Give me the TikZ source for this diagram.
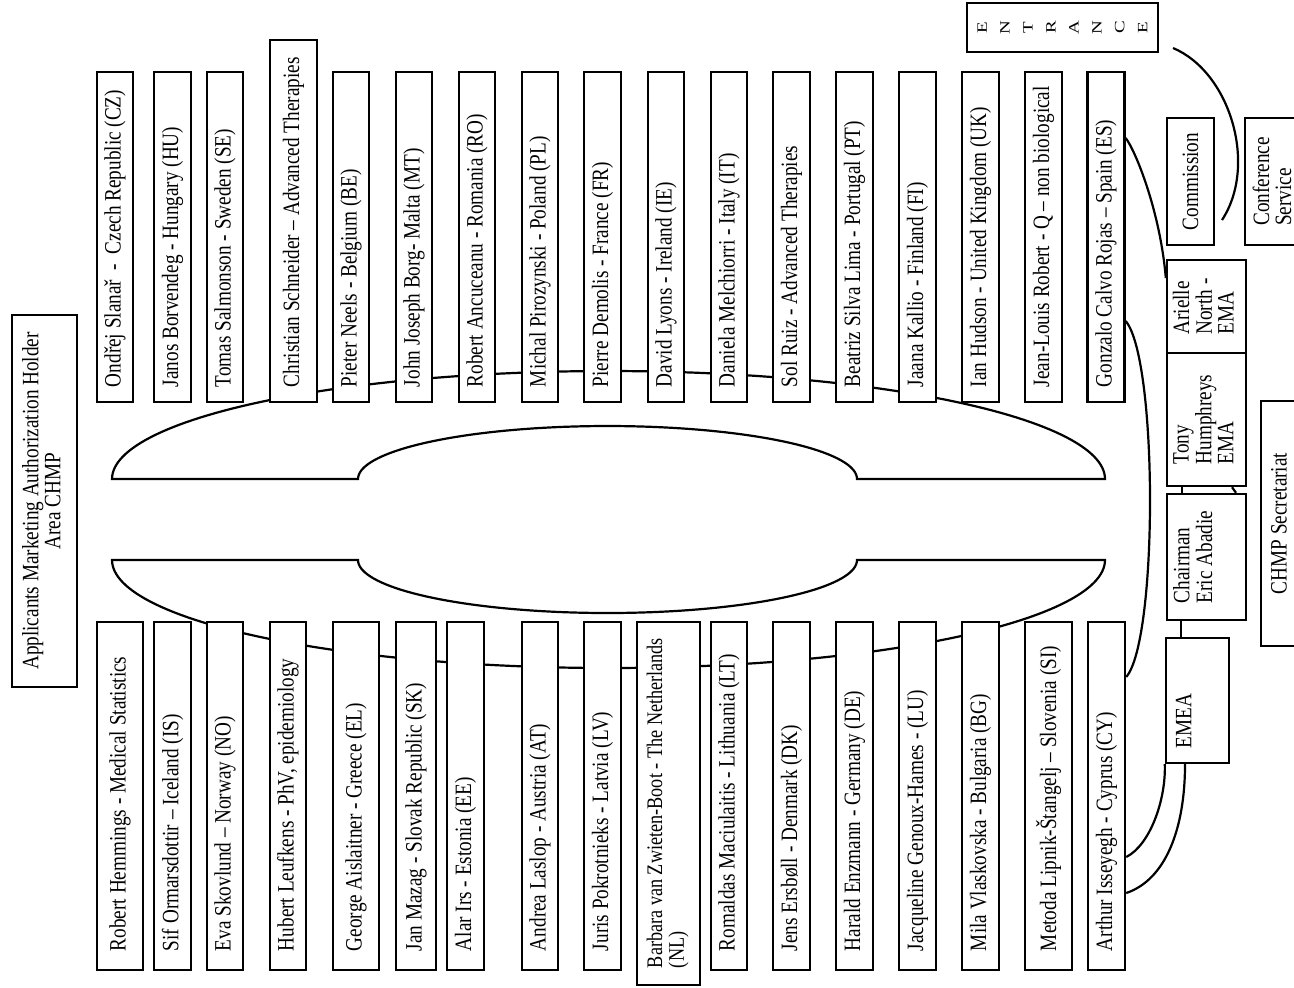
\documentclass[tikz,border=0pt]{standalone}
\usepackage{fontspec}
\setmainfont{Liberation Serif}
\usepackage{graphicx}
\newcommand{\rtxt}[3]{\scalebox{1}[1.22]{\makebox[#1][l]{\hspace*{#2}#3}}}
\newcommand{\ctxt}[1]{\scalebox{1}[1.22]{#1}}
\newcommand{\ltab}[1]{\begin{tabular}{@{}l@{}}#1\end{tabular}}
\newcommand{\ctab}[1]{\begin{tabular}{@{}c@{}}#1\end{tabular}}
\begin{document}
\begin{tikzpicture}[x=0.5pt,y=-0.5pt,
  seat/.style={draw, line width=1.2pt, fill=white, rotate=90, inner sep=0pt,
    font=\fontsize{9.6}{8.8}\selectfont},
  tbl/.style={line width=1.1pt},
  conn/.style={line width=1.1pt}]
\useasboundingbox (0,0) rectangle (1294,987);
\clip (0,0) rectangle (1294,987);

% meeting table (two halves of a ring)
\draw[tbl] plot[domain=180:0, samples=120] ({608.5+496.5*cos(\x)},{479-108*sin(\x)})
  -- plot[domain=0:180, samples=80] ({607.5+249.5*cos(\x)},{479-53*sin(\x)}) -- cycle;
\draw[tbl] plot[domain=180:360, samples=120] ({608.5+496.5*cos(\x)},{560-108*sin(\x)})
  -- plot[domain=360:180, samples=80] ({607.5+249.5*cos(\x)},{560-53*sin(\x)}) -- cycle;

% applicants
\node[seat, minimum width=186pt, minimum height=32.5pt] (mah) at (44.5,501)
  {\ctxt{\ctab{Applicants Marketing Authorization Holder\\Area CHMP}}};

% top row
\node[seat, minimum height=18pt] (cz) at (115,237) {\rtxt{165pt}{7.5pt}{Ondřej Slanař \ - \ Czech Republic (CZ)}};
\node[seat, minimum height=18.5pt] (hu) at (172.5,237) {\rtxt{165pt}{7.5pt}{Janos Borvendeg - Hungary (HU)}};
\node[seat, minimum height=18pt] (se) at (225,237) {\rtxt{165pt}{7.5pt}{Tomas Salmonson - Sweden (SE)}};
\node[seat, minimum height=23.5pt] (cs) at (293.5,221) {\rtxt{181pt}{7.5pt}{Christian Schneider – Advanced Therapies}};
\node[seat, minimum height=18pt] (be) at (351,237) {\rtxt{165pt}{7.5pt}{Pieter Neels - Belgium (BE)}};
\node[seat, minimum height=18pt] (mt) at (414,237) {\rtxt{165pt}{7.5pt}{John Joseph Borg- Malta (MT)}};
\node[seat, minimum height=18pt] (ro) at (477,237) {\rtxt{165pt}{7.5pt}{Robert Ancuceanu - Romania (RO)}};
\node[seat, minimum height=18pt] (pl) at (540,237) {\rtxt{165pt}{7.5pt}{Michal Pirozynski - Poland (PL)}};
\node[seat, minimum height=18.5pt] (fr) at (602.5,237) {\rtxt{165pt}{7.5pt}{Pierre Demolis - France (FR)}};
\node[seat, minimum height=18pt] (ie) at (666,237) {\rtxt{165pt}{7.5pt}{David Lyons - Ireland (IE)}};
\node[seat, minimum height=18pt] (it) at (729,237) {\rtxt{165pt}{7.5pt}{Daniela Melchiorri - Italy (IT)}};
\node[seat, minimum height=18.5pt] (sr) at (791.5,237) {\rtxt{165pt}{7.5pt}{Sol Ruiz - Advanced Therapies}};
\node[seat, minimum height=18.5pt] (pt) at (854.5,237) {\rtxt{165pt}{7.5pt}{Beatriz Silva Lima - Portugal (PT)}};
\node[seat, minimum height=18.5pt] (fi) at (917.5,237) {\rtxt{165pt}{7.5pt}{Jaana Kallio - Finland (FI)}};
\node[seat, minimum height=18.5pt] (uk) at (980.5,237) {\rtxt{165pt}{7.5pt}{Ian Hudson - United Kingdom (UK)}};
\node[seat, minimum height=18.5pt] (jl) at (1043.5,237) {\rtxt{165pt}{7.5pt}{Jean-Louis Robert - Q – non biological}};
\node[seat, minimum height=18.5pt] (es) at (1106,237) {\rtxt{165pt}{7.5pt}{Gonzalo Calvo Rojas – Spain (ES)}};

% bottom row
\node[seat, minimum height=23pt] (ms) at (120,796) {\rtxt{174pt}{9.5pt}{Robert Hemmings - Medical Statistics}};
\node[seat, minimum height=18.5pt] (is) at (172.5,796) {\rtxt{174pt}{9.5pt}{Sif Ormarsdottir – Iceland (IS)}};
\node[seat, minimum height=18pt] (no) at (225,796) {\rtxt{174pt}{9.5pt}{Eva Skovlund – Norway (NO)}};
\node[seat, minimum height=18pt] (phv) at (288,796) {\rtxt{174pt}{9.5pt}{Hubert Leufkens - PhV, epidemiology}};
\node[seat, minimum height=23pt] (el) at (356,796) {\rtxt{174pt}{9.5pt}{George Aislaitner - Greece (EL)}};
\node[seat, minimum height=20pt] (sk) at (416,796) {\rtxt{174pt}{9.5pt}{Jan Mazag - Slovak Republic (SK)}};
\node[seat, minimum height=18.5pt] (ee) at (465.5,796) {\rtxt{174pt}{9.5pt}{Alar Irs - Estonia (EE)}};
\node[seat, minimum height=18pt] (at) at (540,796) {\rtxt{174pt}{9.5pt}{Andrea Laslop - Austria (AT)}};
\node[seat, minimum height=18.5pt] (lv) at (602.5,796) {\rtxt{174pt}{9.5pt}{Juris Pokrotnieks - Latvia (LV)}};
\node[seat, minimum height=31.5pt, font=\fontsize{9.1}{8.6}\selectfont] (nl) at (668.5,803.5)
  {\rtxt{181.5pt}{8.5pt}{\ltab{Barbara van Zwieten-Boot - The Netherlands\\(NL)}}};
\node[seat, minimum height=18pt] (lt) at (729,796) {\rtxt{174pt}{9.5pt}{Romaldas Maciulaitis - Lithuania (LT)}};
\node[seat, minimum height=18.5pt] (dk) at (791.5,796) {\rtxt{174pt}{9.5pt}{Jens Ersbøll - Denmark (DK)}};
\node[seat, minimum height=18.5pt] (de) at (854.5,796) {\rtxt{174pt}{9.5pt}{Harald Enzmann - Germany (DE)}};
\node[seat, minimum height=18.5pt] (lu) at (917.5,796) {\rtxt{174pt}{9.5pt}{Jacqueline Genoux-Hames - (LU)}};
\node[seat, minimum height=18.5pt] (bg) at (980.5,796) {\rtxt{174pt}{9.5pt}{Mila Vlaskovska - Bulgaria (BG)}};
\node[seat, minimum height=23.5pt] (si) at (1048.5,796) {\rtxt{174pt}{9.5pt}{Metoda Lipnik-Štangelj – Slovenia (SI)}};
\node[seat, minimum height=18.5pt] (cy) at (1106.5,796) {\rtxt{174pt}{9.5pt}{Arthur Isseyegh - Cyprus (CY)}};

% right side
\node[seat, minimum width=24.5pt, minimum height=95.5pt, font=\fontsize{9.5}{15.3}\selectfont] (ent) at (1062.5,27.5)
  {\scalebox{1}[0.75]{\ctab{E\\N\\T\\R\\A\\N\\C\\E}}};
\node[seat, minimum width=63.5pt, minimum height=23.5pt] (com) at (1190.5,181.5) {\ctxt{Commission}};
\node[seat, minimum width=63.5pt, minimum height=30pt] (conf) at (1275,181.5) {\ctxt{\ltab{Conference\\Service}}};
\node[seat, minimum width=46.5pt, minimum height=39.5pt] (arielle) at (1206.5,306.5) {\ctxt{\ltab{Arielle\\North -\\EMA}}};
\node[seat, minimum width=66.5pt, minimum height=39.5pt] (tony) at (1206.5,419.5) {\ctxt{\ltab{Tony\\Humphreys\\EMA}}};
\node[seat, minimum width=63pt, minimum height=39.5pt] (chair) at (1206.5,557) {\ctxt{\ltab{Chairman\\Eric Abadie\\\mbox{}}}};
\node[seat, minimum width=122.5pt, minimum height=18pt] (sec) at (1279,523.5) {\ctxt{CHMP Secretariat}};
\node[seat, minimum height=31.5pt] (emea) at (1197.5,700.5) {\rtxt{62.5pt}{7.5pt}{\ltab{EMEA\\\mbox{}}}};

% connectors
\draw[conn] (es.south |- 0,138) .. controls (1135,150) and (1160,210) .. (arielle.north |- 0,278);
\draw[conn] (es.south |- 0,321) .. controls (1158,360) and (1158,640) .. (cy.south |- 0,677);
\draw[conn] (tony.west -| 1182,0) -- (chair.east -| 1182,0);
\draw[conn] (tony.west -| 1232,0) -- (chair.east -| 1236,0);
\draw[conn] (chair.west -| 1181,0) -- (emea.east -| 1181,0);
\draw[conn] (cy.south |- 0,857) .. controls (1150,845) and (1166,800) .. (emea.north west);
\draw[conn] (cy.south |- 0,893) .. controls (1165,880) and (1185,830) .. (emea.west -| 1185,0);
\coordinate (door1) at (1173,48);
\coordinate (door2) at (1222,220);
\draw[conn] (door1) .. controls (1230,72) and (1258,165) .. (door2);
\end{tikzpicture}
\end{document}
